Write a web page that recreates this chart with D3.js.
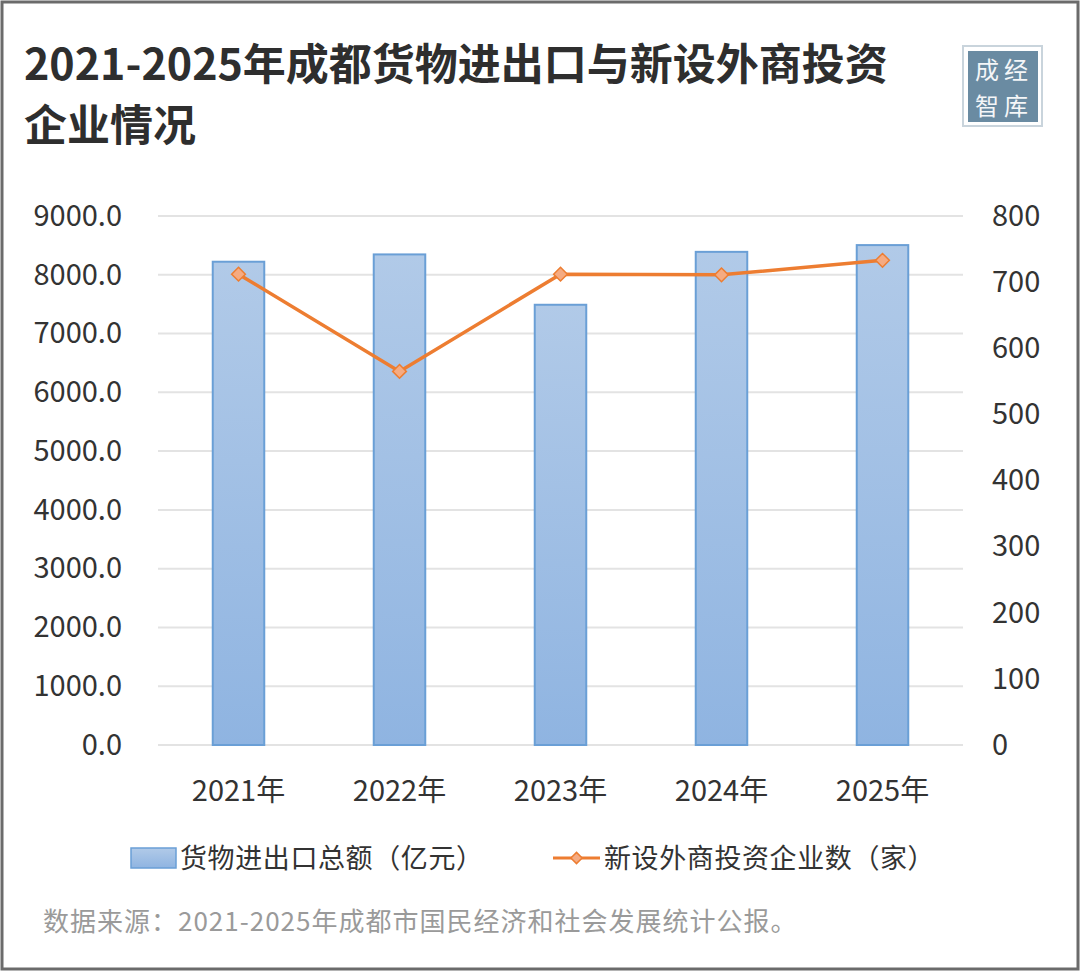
<!DOCTYPE html>
<html>
<head>
<meta charset="utf-8">
<script src="https://cdn.jsdelivr.net/npm/d3@7"></script>
<style>
  body { margin: 0; background: #fff; }
  svg text { font-family: "Noto Sans CJK SC", "Noto Sans", sans-serif; }
</style>
</head>
<body>
<div id="chart"></div>
<script>
var years = ["2021年", "2022年", "2023年", "2024年", "2025年"]
var tradeTotal = [8222.0, 8346.4, 7489.8, 8390.0, 8505.0]   // 货物进出口总额（亿元）
var newFirms = [712, 565, 712, 711, 733]                     // 新设外商投资企业数（家）
var leftTicks = [0, 1000, 2000, 3000, 4000, 5000, 6000, 7000, 8000, 9000]
var rightTicks = [0, 100, 200, 300, 400, 500, 600, 700, 800]

var W = 1080, H = 971
var margin = {top: 216, right: 117, bottom: 226, left: 158}
var width = W - margin.left - margin.right
var height = H - margin.top - margin.bottom

var svg = d3.select("#chart").append("svg")
    .attr("width", W).attr("height", H)

// frame
svg.append("rect")
    .attr("x", 2).attr("y", 2).attr("width", W - 4).attr("height", H - 4)
    .attr("fill", "#fff").attr("stroke", "#6b6b6b").attr("stroke-width", 3)

// title
var title = svg.append("text").attr("fill", "#2e2e2e")
    .attr("font-size", 43).attr("font-weight", "bold")
title.append("tspan").attr("x", 24).attr("y", 80).text("2021-2025年成都货物进出口与新设外商投资")
title.append("tspan").attr("x", 24).attr("y", 141).text("企业情况")

// logo stamp
var logo = svg.append("g").attr("transform", "translate(965,48)")
logo.append("rect").attr("x", -2).attr("y", -2).attr("width", 79).attr("height", 80)
    .attr("fill", "none").attr("stroke", "#c9d4dc").attr("stroke-width", 2)
logo.append("rect").attr("x", 3).attr("y", 3).attr("width", 70).attr("height", 71)
    .attr("fill", "#6a8ba2")
logo.selectAll("text.logo").data([["成经", 31], ["智库", 67]])
    .enter().append("text")
    .attr("x", 39).attr("y", function(d) { return d[1] })
    .attr("text-anchor", "middle").attr("font-size", 24).attr("fill", "#f4f6f8")
    .attr("letter-spacing", 5)
    .text(function(d) { return d[0] })

var g = svg.append("g").attr("transform", "translate(" + margin.left + "," + margin.top + ")")

var x = d3.scaleBand().domain(years).range([0, width]).paddingInner(0.68).paddingOuter(0.34)
var xc = function(d) { return x(d) + x.bandwidth() / 2 }
var yL = d3.scaleLinear().domain([0, 9000]).range([height, 0])
var yR = d3.scaleLinear().domain([0, 800]).range([height, 0])

// grid lines
g.selectAll("line.grid").data(leftTicks).enter().append("line")
    .attr("x1", 0).attr("x2", width)
    .attr("y1", function(d) { return yL(d) }).attr("y2", function(d) { return yL(d) })
    .attr("stroke", "#e3e3e3").attr("stroke-width", 2)

// left axis
var axL = g.append("g").call(d3.axisLeft(yL).tickValues(leftTicks).tickSize(0).tickPadding(36)
    .tickFormat(d3.format(".1f")))
axL.select(".domain").remove()
axL.selectAll("text").attr("font-size", 29).attr("fill", "#333").attr("font-family", "Noto Sans CJK SC")

// right axis
var axR = g.append("g").attr("transform", "translate(" + width + ",0)")
    .call(d3.axisRight(yR).tickValues(rightTicks).tickSize(0).tickPadding(29))
axR.select(".domain").remove()
axR.selectAll("text").attr("font-size", 29).attr("fill", "#333").attr("font-family", "Noto Sans CJK SC")

// x axis
var axX = g.append("g").attr("transform", "translate(0," + height + ")")
    .call(d3.axisBottom(x).tickSize(0).tickPadding(35))
axX.select(".domain").remove()
axX.selectAll("text").attr("font-size", 29).attr("fill", "#333").attr("font-family", "Noto Sans CJK SC")

// gradient for bars
var defs = svg.append("defs")
var grad = defs.append("linearGradient").attr("id", "barGrad")
    .attr("x1", 0).attr("y1", 0).attr("x2", 0).attr("y2", 1)
grad.append("stop").attr("offset", "0%").attr("stop-color", "#b1cae8")
grad.append("stop").attr("offset", "100%").attr("stop-color", "#8fb4e1")

g.selectAll("rect.bar").data(tradeTotal).enter().append("rect")
    .attr("x", function(d, i) { return x(years[i]) })
    .attr("y", function(d) { return yL(d) })
    .attr("width", x.bandwidth())
    .attr("height", function(d) { return height - yL(d) })
    .attr("fill", "url(#barGrad)")
    .attr("stroke", "#6a9fd6").attr("stroke-width", 2)

// line
var line = d3.line()
    .x(function(d, i) { return xc(years[i]) })
    .y(function(d) { return yR(d) })
g.append("path").datum(newFirms).attr("d", line)
    .attr("fill", "none").attr("stroke", "#ed7d31").attr("stroke-width", 3.5)

var diamond = d3.symbol().type(d3.symbolDiamond2).size(120)
g.selectAll("path.pt").data(newFirms).enter().append("path")
    .attr("d", diamond)
    .attr("transform", function(d, i) { return "translate(" + xc(years[i]) + "," + yR(d) + ")" })
    .attr("fill", "#f5ab82").attr("stroke", "#ed7d31").attr("stroke-width", 1.5)

// legend
var lg = svg.append("g")
lg.append("rect").attr("x", 131).attr("y", 848).attr("width", 45).attr("height", 20)
    .attr("fill", "url(#barGrad)").attr("stroke", "#6a9fd6").attr("stroke-width", 1.5)
lg.append("text").attr("x", 180).attr("y", 868).attr("font-size", 27).attr("fill", "#333")
    .attr("letter-spacing", 0.6)
    .text("货物进出口总额（亿元）")
lg.append("line").attr("x1", 553).attr("x2", 600).attr("y1", 858).attr("y2", 858)
    .attr("stroke", "#ed7d31").attr("stroke-width", 3)
lg.append("path").attr("d", d3.symbol().type(d3.symbolDiamond2).size(80))
    .attr("transform", "translate(576.5,858)")
    .attr("fill", "#f5ab82").attr("stroke", "#ed7d31").attr("stroke-width", 1.5)
lg.append("text").attr("x", 604).attr("y", 868).attr("font-size", 27).attr("fill", "#333")
    .attr("letter-spacing", 0.6)
    .text("新设外商投资企业数（家）")

// source
svg.append("text").attr("x", 43).attr("y", 931).attr("font-size", 26).attr("fill", "#9a9a9a")
    .attr("letter-spacing", 1)
    .text("数据来源：2021-2025年成都市国民经济和社会发展统计公报。")
</script>
</body>
</html>
